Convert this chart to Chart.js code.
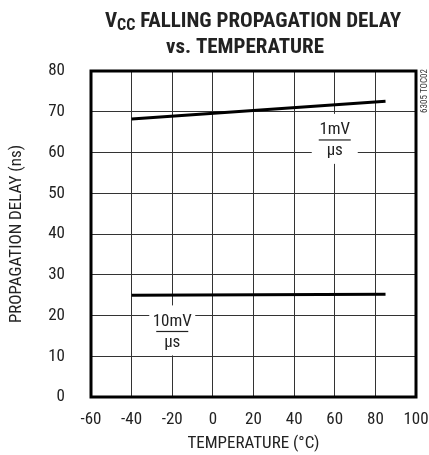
<!DOCTYPE html>
<html>
<head>
<meta charset="utf-8">
<script src="https://cdn.jsdelivr.net/npm/chart.js@4"></script>
<style>
  html, body { margin: 0; padding: 0; background: #fff; }
  #wrap { width: 429px; height: 455px; position: relative; }
</style>
</head>
<body>
<div id="wrap"><canvas id="delayChart" width="429" height="455"></canvas></div>
<script>
// temperature (°C) at the ends of each curve
const temps = [-40, 85];
// propagation delay (ns)
const delay1mV = [68.2, 72.6];
const delay10mV = [25.0, 25.2];

const xTicks = [-60, -40, -20, 0, 20, 40, 60, 80, 100];
const yTicks = [0, 10, 20, 30, 40, 50, 60, 70, 80];

// curve labels: numerator / denominator, anchored at the fraction bar
const curveLabels = [
  { top: "1mV", bottom: "\u00b5s", x: 60, y: 63.1 },
  { top: "10mV", bottom: "\u00b5s", x: -20, y: 16.1 }
];

const FONT = "'Liberation Sans Narrow', 'Arial Narrow', 'Roboto Condensed', 'DejaVu Sans Condensed', sans-serif";

const toXY = (xs, ys) => xs.map((x, i) => ({ x: x, y: ys[i] }));

const decorPlugin = {
  id: "decor",
  beforeDatasetsDraw(chart) {
    const { ctx, scales } = chart;
    ctx.save();
    // white boxes behind the curve labels
    curveLabels.forEach(l => {
      const cx = scales.x.getPixelForValue(l.x);
      const cy = scales.y.getPixelForValue(l.y);
      ctx.fillStyle = "#fff";
      ctx.fillRect(cx - 23, cy - 26, 46, 50);
    });
    ctx.restore();
  },
  afterDatasetsDraw(chart) {
    const { ctx, scales, chartArea } = chart;
    ctx.save();
    // heavy frame
    ctx.strokeStyle = "#000";
    ctx.lineWidth = 3;
    ctx.strokeRect(chartArea.left, chartArea.top, chartArea.right - chartArea.left, chartArea.bottom - chartArea.top);

    // fraction labels
    ctx.fillStyle = "#222";
    ctx.textAlign = "center";
    ctx.textBaseline = "middle";
    ctx.font = "17px " + FONT;
    curveLabels.forEach(l => {
      const cx = scales.x.getPixelForValue(l.x);
      const cy = scales.y.getPixelForValue(l.y);
      ctx.fillText(l.top, cx, cy - 10);
      ctx.fillText(l.bottom, cx, cy + 11);
      ctx.fillRect(cx - 16, cy - 0.5, 32, 1.2);
    });

    // title with subscript
    ctx.fillStyle = "#222";
    ctx.textAlign = "left";
    ctx.textBaseline = "alphabetic";
    const big = "bold 21px " + FONT;
    const small = "bold 16px " + FONT;
    const rest = " FALLING PROPAGATION DELAY";
    ctx.font = big;
    const wV = ctx.measureText("V").width;
    const wRest = ctx.measureText(rest).width;
    ctx.font = small;
    const wCC = ctx.measureText("CC").width;
    const total = wV + wCC + wRest;
    const x0 = 253 - total / 2;
    ctx.font = big;
    ctx.fillText("V", x0, 27);
    ctx.font = small;
    ctx.fillText("CC", x0 + wV, 30);
    ctx.font = big;
    ctx.fillText(rest, x0 + wV + wCC, 27);
    ctx.textAlign = "center";
    ctx.fillText("vs. TEMPERATURE", 245, 53);

    // figure code at right edge
    ctx.translate(425, 91);
    ctx.rotate(-Math.PI / 2);
    ctx.font = "9px " + FONT;
    ctx.fillStyle = "#333";
    ctx.textAlign = "center";
    ctx.textBaseline = "middle";
    ctx.fillText("6305 TOC02", 0, 0);
    ctx.restore();
  }
};

const lineStyle = {
  borderColor: "#000",
  borderWidth: 3,
  pointRadius: 0,
  showLine: true,
  fill: false,
  tension: 0
};

new Chart(document.getElementById("delayChart"), {
  type: "scatter",
  data: {
    datasets: [
      Object.assign({ label: "1mV/us", data: toXY(temps, delay1mV) }, lineStyle),
      Object.assign({ label: "10mV/us", data: toXY(temps, delay10mV) }, lineStyle)
    ]
  },
  options: {
    responsive: false,
    animation: false,
    devicePixelRatio: 1,
    layout: { padding: { top: 71, right: 13, left: 0, bottom: 0 } },
    plugins: {
      legend: { display: false },
      tooltip: { enabled: false }
    },
    scales: {
      x: {
        type: "linear",
        min: -60,
        max: 100,
        afterBuildTicks: s => { s.ticks = xTicks.map(v => ({ value: v })); },
        afterFit: s => { s.height = 58; s.paddingLeft = 0; s.paddingRight = 0; },
        grid: { color: "#333", lineWidth: 1, drawTicks: false },
        border: { display: false },
        ticks: {
          padding: 13,
          color: "#222",
          font: { family: FONT, size: 17 },
          maxRotation: 0,
          autoSkip: false
        },
        title: {
          display: true,
          text: "TEMPERATURE (\u00b0C)",
          color: "#222",
          font: { family: FONT, size: 17 },
          padding: { top: 0, bottom: 1 }
        }
      },
      y: {
        min: 0,
        max: 80,
        afterBuildTicks: s => { s.ticks = yTicks.map(v => ({ value: v })); },
        afterFit: s => { s.width = 91; s.paddingTop = 0; s.paddingBottom = 0; },
        grid: { color: "#333", lineWidth: 1, drawTicks: false },
        border: { display: false },
        ticks: {
          padding: 26,
          color: "#222",
          font: { family: FONT, size: 17 },
          autoSkip: false
        },
        title: {
          display: true,
          text: "PROPAGATION DELAY (ns)",
          color: "#222",
          font: { family: FONT, size: 17 },
          padding: { top: 7, bottom: 0 }
        }
      }
    }
  },
  plugins: [decorPlugin]
});
</script>
</body>
</html>
